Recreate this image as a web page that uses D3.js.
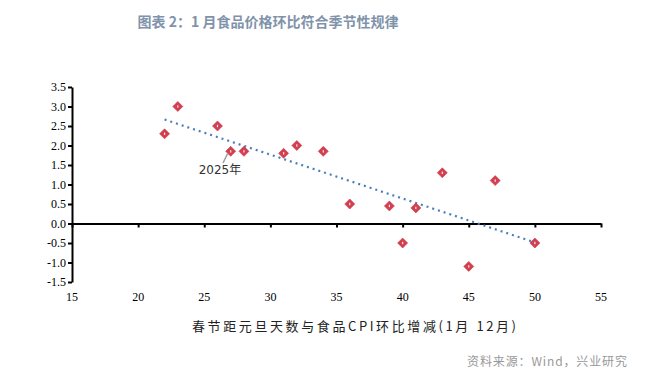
<!DOCTYPE html>
<html><head><meta charset="utf-8">
<script src="https://cdn.jsdelivr.net/npm/d3@7"></script>
<style>body{margin:0;background:#fff}svg{display:block}</style>
</head><body>
<svg id="c" width="662" height="379"></svg>
<script>
const titleText = "图表 2：1 月食品价格环比符合季节性规律";
const xTitle = "春节距元旦天数与食品CPI环比增减(1月 12月)";
const sourceText = "资料来源：Wind，兴业研究";
const daysGap = [22, 23, 26, 27, 28, 31, 32, 34, 36, 39, 40, 41, 43, 45, 47, 50];
const foodChange = [2.3, 3.0, 2.5, 1.85, 1.85, 1.8, 2.0, 1.85, 0.5, 0.45, -0.5, 0.4, 1.3, -1.1, 1.1, -0.5];
const xTicks = [15, 20, 25, 30, 35, 40, 45, 50, 55];
const yTicks = [-1.5, -1.0, -0.5, 0.0, 0.5, 1.0, 1.5, 2.0, 2.5, 3.0, 3.5];
const annotation = {label: "2025年", x: 27, y: 1.85};

const svg = d3.select("#c");
const x = d3.scaleLinear().domain([15, 55]).range([72, 601]);
const y = d3.scaleLinear().domain([-1.5, 3.5]).range([282, 87]);

svg.append("text").attr("x", 268).attr("y", 27).attr("text-anchor", "middle")
  .attr("font-family", "Noto Sans CJK SC").attr("font-weight", "bold").attr("font-size", 14)
  .attr("fill", "#8093aa").text(titleText);

// y axis
const ya = svg.append("g").attr("transform", "translate(72,0)")
  .call(d3.axisLeft(y).tickValues(yTicks).tickFormat(d3.format(".1f")).tickSize(4).tickSizeOuter(0));
ya.select(".domain").attr("stroke", "#000").attr("stroke-width", 2);
ya.selectAll(".tick line").attr("stroke", "#000").attr("stroke-width", 2);
ya.selectAll("text").attr("font-family", "Liberation Serif").attr("font-size", 12).attr("fill", "#000")
  .attr("x", -6).text(d => d3.format(".1f")(d).replace("−", "-"));

// x axis at y=0
const xa = svg.append("g").attr("transform", `translate(0,${y(0)})`)
  .call(d3.axisBottom(x).tickValues(xTicks).tickSize(4).tickSizeOuter(0).tickFormat(""));
xa.select(".domain").attr("stroke", "#000").attr("stroke-width", 2);
xa.selectAll(".tick line").attr("stroke", "#000").attr("stroke-width", 2);
svg.append("g").selectAll("text").data(xTicks).join("text")
  .attr("x", d => x(d)).attr("y", 301).attr("text-anchor", "middle")
  .attr("font-family", "Liberation Serif").attr("font-size", 12).attr("fill", "#000").text(d => d);

// trend line (least squares)
const mx = d3.mean(daysGap), my = d3.mean(foodChange);
const sxy = d3.sum(daysGap, (d, i) => (d - mx) * (foodChange[i] - my));
const sxx = d3.sum(daysGap, d => (d - mx) ** 2);
const slope = sxy / sxx, icpt = my - slope * mx;
const x0 = d3.min(daysGap), x1 = d3.max(daysGap);
svg.append("line").attr("x1", x(x0)).attr("y1", y(slope * x0 + icpt))
  .attr("x2", x(x1)).attr("y2", y(slope * x1 + icpt))
  .attr("stroke", "#4a7ebb").attr("stroke-width", 2.2).attr("stroke-dasharray", "2,4");

// points
const pts = svg.append("g").selectAll("g").data(daysGap).join("g")
  .attr("transform", (d, i) => `translate(${x(d)},${y(foodChange[i])})`);
pts.append("path").attr("d", "M0,-5L5,0L0,5L-5,0Z").attr("fill", "#d2404f").attr("stroke", "#c93548").attr("stroke-width", 0.6);
pts.append("rect").attr("x", -0.6).attr("y", -1.2).attr("width", 1.2).attr("height", 2.4).attr("fill", "#fbe3e6");

// annotation
svg.append("line").attr("x1", 223).attr("y1", 163).attr("x2", x(annotation.x) - 3).attr("y2", y(annotation.y) + 2)
  .attr("stroke", "#a0a0a0").attr("stroke-width", 1.5);
svg.append("text").attr("x", 220).attr("y", 174).attr("text-anchor", "middle")
  .attr("font-family", "DejaVu Sans, Noto Sans CJK SC").attr("font-size", 12).attr("fill", "#333").text(annotation.label);

svg.append("text").attr("x", 192).attr("y", 331)
  .attr("textLength", 324).attr("lengthAdjust", "spacing")
  .attr("font-family", "Noto Sans CJK SC").attr("font-size", 13).attr("fill", "#222").text(xTitle);

svg.append("text").attr("x", 467).attr("y", 366)
  .attr("textLength", 160).attr("lengthAdjust", "spacing")
  .attr("font-family", "Noto Sans CJK SC").attr("font-size", 12).attr("fill", "#999").text(sourceText);
</script>
</body></html>
